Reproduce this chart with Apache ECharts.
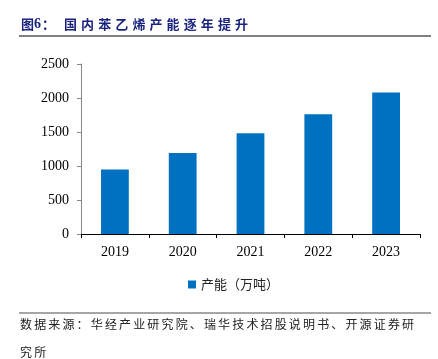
<!DOCTYPE html>
<html><head><meta charset="utf-8">
<script src="https://cdn.jsdelivr.net/npm/echarts@6/dist/echarts.min.js"></script>
<style>html,body{margin:0;padding:0;background:#fff}#c{width:438px;height:359px}</style>
</head><body><div id="c"></div>
<script>
var categories = ['2019','2020','2021','2022','2023'];
var capacity = [950, 1190, 1480, 1760, 2080];
var seriesName = '产能（万吨）';
var titleText = '图6：国内苯乙烯产能逐年提升';
var sourceLine1 = '数据来源：华经产业研究院、瑞华技术招股说明书、开源证券研';
var sourceLine2 = '究所';

function spacedText(str, x, y, step, font, fill) {
  var els = [], cx = x;
  for (var i = 0; i < str.length; i++) {
    els.push({type:'text', x:cx, y:y, style:{text:str[i], font:font, fill:fill, verticalAlign:'middle'}});
    cx += step;
  }
  return els;
}

var graphics = [
  {type:'line', shape:{x1:19,y1:36,x2:431,y2:36}, style:{stroke:'#000', lineWidth:1}},
  {type:'line', shape:{x1:19,y1:313,x2:431,y2:313}, style:{stroke:'#888', lineWidth:1.5}}
];
var titleFont = 'bold 13px "Noto Sans CJK SC"', titleColor = '#1a237e';
graphics = graphics.concat(spacedText(titleText.slice(0,1), 21, 24, 17, titleFont, titleColor));
graphics = graphics.concat(spacedText(titleText.slice(1,2), 34, 24, 12, 'bold 14px "Liberation Serif"', titleColor));
graphics = graphics.concat(spacedText(titleText.slice(2,3), 42, 24, 12, titleFont, titleColor));
graphics = graphics.concat(spacedText(titleText.slice(3), 64, 24, 17.1, titleFont, titleColor));
graphics = graphics.concat(spacedText(sourceLine1, 20, 324, 14.15, '12px "Noto Sans CJK SC"', '#222'));
graphics = graphics.concat(spacedText(sourceLine2, 20, 352, 14.15, '12px "Noto Sans CJK SC"', '#222'));

var chart = echarts.init(document.getElementById('c'), null, {renderer:'canvas'});
chart.setOption({
  animation:false,
  backgroundColor:'#fff',
  grid:{left:81, right:18, top:64, bottom:125, containLabel:false},
  legend:{
    data:[seriesName], top:273, left:183, itemWidth:8, itemHeight:8, itemGap:4,
    icon:'rect',
    textStyle:{fontFamily:'Noto Sans CJK SC', fontSize:13, color:'#222'}
  },
  xAxis:{
    type:'category', data:categories,
    axisLine:{lineStyle:{color:'#000', width:1}},
    axisTick:{show:true, alignWithLabel:false, length:4, lineStyle:{color:'#000'}},
    axisLabel:{fontFamily:'Liberation Serif', fontSize:14, color:'#000', margin:11}
  },
  yAxis:{
    type:'value', min:0, max:2500, interval:500,
    axisLine:{show:true, lineStyle:{color:'#888', width:1}},
    axisTick:{show:true, length:4, lineStyle:{color:'#888'}},
    splitLine:{show:false},
    axisLabel:{fontFamily:'Liberation Serif', fontSize:14, color:'#000', margin:12,
      formatter:function(v){return String(v);}}
  },
  series:[{
    name:seriesName, type:'bar', data:capacity, barWidth:'41%',
    itemStyle:{color:'#0070C0'}
  }],
  graphic:graphics
});
</script></body></html>
